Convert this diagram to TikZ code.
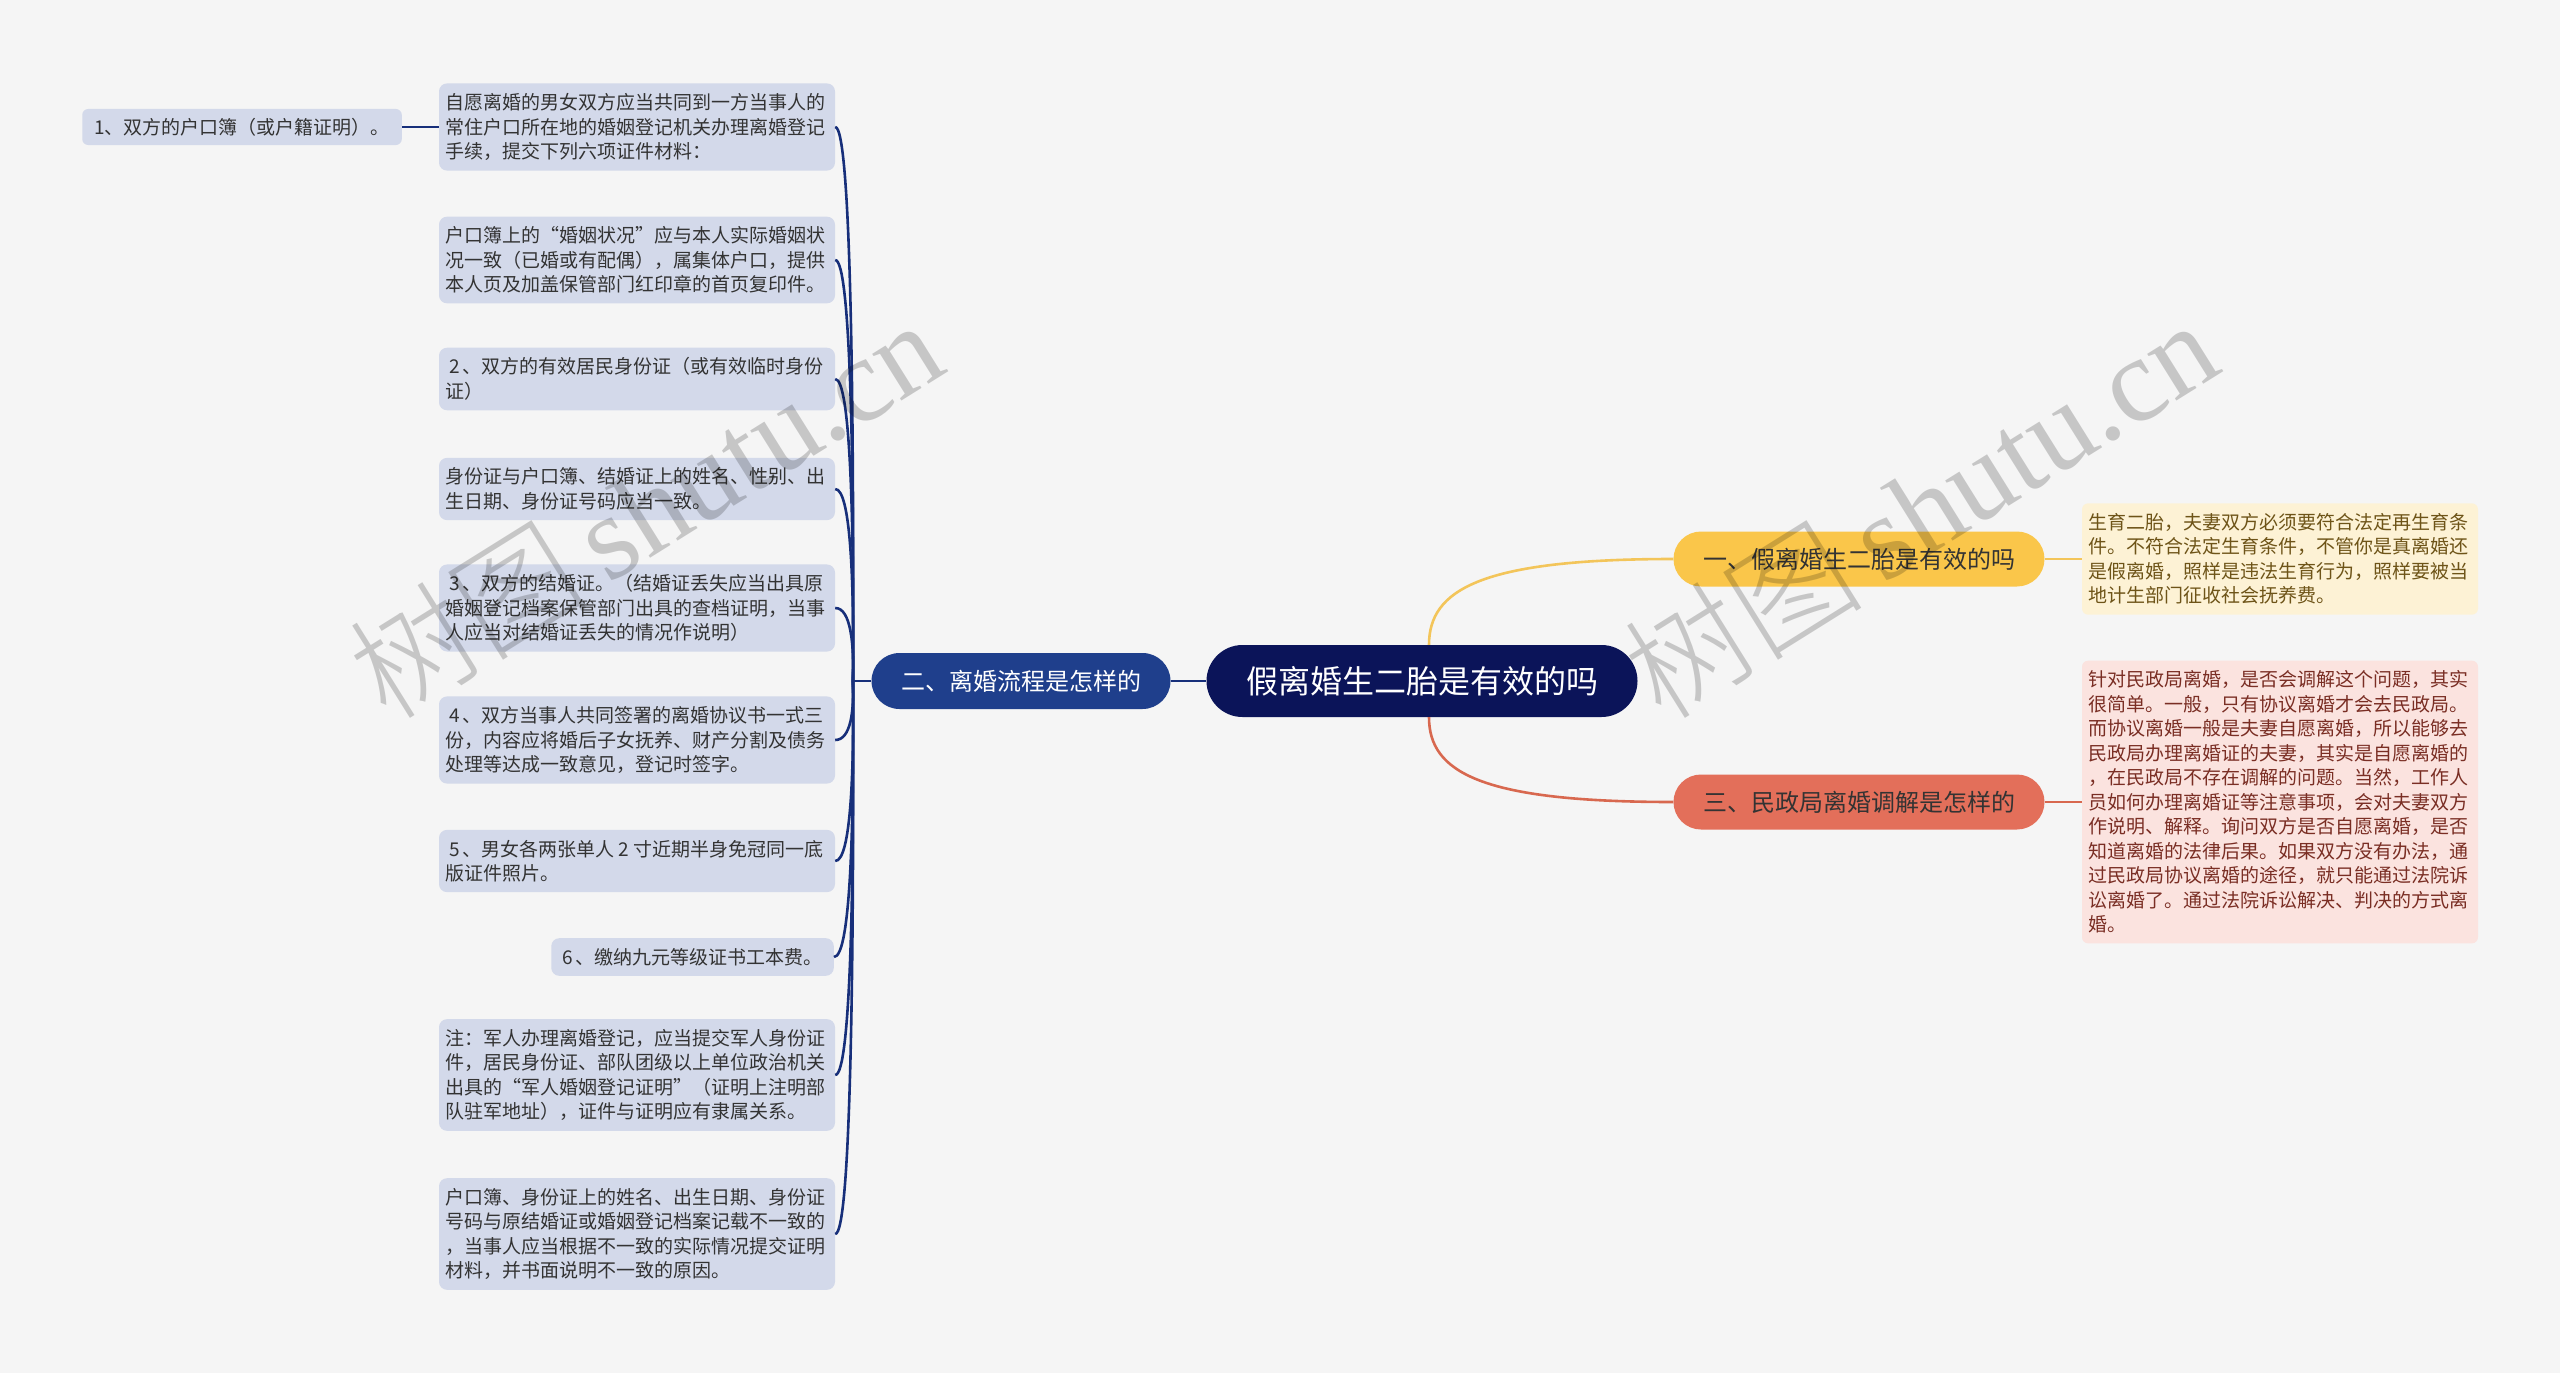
\documentclass[tikz,border=0pt]{standalone}
\usepackage{fontspec}
\setmainfont{Noto Sans CJK SC}
\newfontfamily\wmcjk{Noto Sans CJK SC Light}
\newfontfamily\wmlat{Liberation Serif}
\definecolor{bgc}{HTML}{F5F5F5}
\definecolor{rootc}{HTML}{0B1459}
\definecolor{bluec}{HTML}{1F3F8C}
\definecolor{blinec}{HTML}{172F7A}
\definecolor{leafc}{HTML}{D3D9EA}
\definecolor{leaftext}{HTML}{333333}
\definecolor{yelc}{HTML}{FAC64A}
\definecolor{ylinec}{HTML}{F3C55A}
\definecolor{ybox}{HTML}{FDF2D5}
\definecolor{ytext}{HTML}{6E5418}
\definecolor{redc}{HTML}{E36F5A}
\definecolor{rlinec}{HTML}{D8684F}
\definecolor{pbox}{HTML}{FBE3DF}
\definecolor{ptext}{HTML}{7A2E24}
\tikzset{
  leaf/.style={fill=leafc, rounded corners=8pt, inner xsep=6pt, inner ysep=10pt,
    text=leaftext, align=left, font=\fontsize{19}{24.5}\selectfont},
  leafw/.style={leaf, text width=384pt},
  pill/.style={inner sep=0pt, align=center},
  lline/.style={draw=blinec, line width=2.6pt},
  yline/.style={draw=ylinec, line width=2.6pt},
  rline/.style={draw=rlinec, line width=2.6pt},
  wmark/.style={rotate=32, text=black, opacity=0.19, inner sep=0pt}
}
\begin{document}
\begin{tikzpicture}[x=1pt,y=-1pt]
\useasboundingbox (0,0) rectangle (2560,1373);
\fill[bgc] (0,0) rectangle (2560,1373);

% central and main branches
\node[pill, fill=rootc, minimum width=431pt, minimum height=72pt, rounded corners=36pt,
  text=white, font=\fontsize{32}{36}\selectfont] (root) at (1422,681) {假离婚生二胎是有效的吗};
\node[pill, fill=bluec, minimum width=299pt, minimum height=56pt, rounded corners=28pt,
  text=white, font=\fontsize{24}{28}\selectfont] (n2) at (1021,681) {二、离婚流程是怎样的};
\node[pill, fill=yelc, minimum width=371pt, minimum height=55pt, rounded corners=27.5pt,
  text=leaftext, font=\fontsize{24}{28}\selectfont] (n1) at (1859,559) {一、假离婚生二胎是有效的吗};
\node[pill, fill=redc, minimum width=371pt, minimum height=55pt, rounded corners=27.5pt,
  text=leaftext, font=\fontsize{24}{28}\selectfont] (n3) at (1859,802) {三、民政局离婚调解是怎样的};

% left leaves
\node[leafw] (b1) at (637,127) {自愿离婚的男女双方应当共同到一方当事人的\\常住户口所在地的婚姻登记机关办理离婚登记\\手续，提交下列六项证件材料：};
\node[leafw] (b2) at (637,260) {户口簿上的“婚姻状况”应与本人实际婚姻状\\况一致（已婚或有配偶），属集体户口，提供\\本人页及加盖保管部门红印章的首页复印件。};
\node[leafw] (b3) at (637,379) {\hspace{4pt}2\hspace{3pt}、双方的有效居民身份证（或有效临时身份\\证）};
\node[leafw] (b4) at (637,489) {身份证与户口簿、结婚证上的姓名、性别、出\\生日期、身份证号码应当一致。};
\node[leafw] (b5) at (637,608) {\hspace{4pt}3\hspace{3pt}、双方的结婚证。（结婚证丢失应当出具原\\婚姻登记档案保管部门出具的查档证明，当事\\人应当对结婚证丢失的情况作说明）};
\node[leafw] (b6) at (637,740) {\hspace{4pt}4\hspace{3pt}、双方当事人共同签署的离婚协议书一式三\\份，内容应将婚后子女抚养、财产分割及债务\\处理等达成一致意见，登记时签字。};
\node[leafw] (b7) at (637,861) {\hspace{4pt}5\hspace{3pt}、男女各两张单人\hspace{4pt}2\hspace{4pt}寸近期半身免冠同一底\\版证件照片。};
\node[leaf, anchor=east, inner xsep=11pt] (b8) at (834,957) {6\hspace{3pt}、缴纳九元等级证书工本费。};
\node[leafw] (b9) at (637,1075) {注：军人办理离婚登记，应当提交军人身份证\\件，居民身份证、部队团级以上单位政治机关\\出具的“军人婚姻登记证明”（证明上注明部\\队驻军地址），证件与证明应有隶属关系。};
\node[leafw] (b10) at (637,1234) {户口簿、身份证上的姓名、出生日期、身份证\\号码与原结婚证或婚姻登记档案记载不一致的\\，当事人应当根据不一致的实际情况提交证明\\材料，并书面说明不一致的原因。};
\node[leaf, anchor=east, inner xsep=12pt, inner ysep=9pt, rounded corners=6pt] (fl) at (402,127) {1、双方的户口簿（或户籍证明）。};

% right detail boxes
\node[leafw, fill=ybox, text=ytext, rounded corners=6pt] (yb) at (2280,559) {生育二胎，夫妻双方必须要符合法定再生育条\\件。不符合法定生育条件，不管你是真离婚还\\是假离婚，照样是违法生育行为，照样要被当\\地计生部门征收社会抚养费。};
\node[leafw, fill=pbox, text=ptext, rounded corners=6pt] (pb) at (2280,802) {针对民政局离婚，是否会调解这个问题，其实\\很简单。一般，只有协议离婚才会去民政局。\\而协议离婚一般是夫妻自愿离婚，所以能够去\\民政局办理离婚证的夫妻，其实是自愿离婚的\\，在民政局不存在调解的问题。当然，工作人\\员如何办理离婚证等注意事项，会对夫妻双方\\作说明、解释。询问双方是否自愿离婚，是否\\知道离婚的法律后果。如果双方没有办法，通\\过民政局协议离婚的途径，就只能通过法院诉\\讼离婚了。通过法院诉讼解决、判决的方式离\\婚。};

% connectors
\coordinate (J) at (853,681);
\draw[lline] (n2.east) -- (root.west);
\draw[lline] (n2.west) -- (J);
\foreach \i/\y in {1/127,2/260,3/379,4/489,5/608,6/740,7/861,8/957,9/1075,10/1234}
  \draw[lline] (J) .. controls (854,{(681+\y)/2}) and (851,\y) .. (b\i.east);
\draw[lline] (b1.west) -- (fl.east);
\draw[yline] ([xshift=7pt]root.north) .. controls (1429,590) and (1480,559) .. (n1.west);
\draw[rline] ([xshift=7pt]root.south) .. controls (1429,772) and (1480,802) .. (n3.west);
\draw[yline] (n1.east) -- (yb.west);
\draw[rline] (n3.east) -- (pb.west);

% watermarks
\node[wmark] (w1) at (645,508) {\fontsize{120}{120}\selectfont\wmcjk 树图\wmlat\,shutu.cn};
\node[wmark] (w2) at (1920,508) {\fontsize{120}{120}\selectfont\wmcjk 树图\wmlat\,shutu.cn};
\end{tikzpicture}
\end{document}
